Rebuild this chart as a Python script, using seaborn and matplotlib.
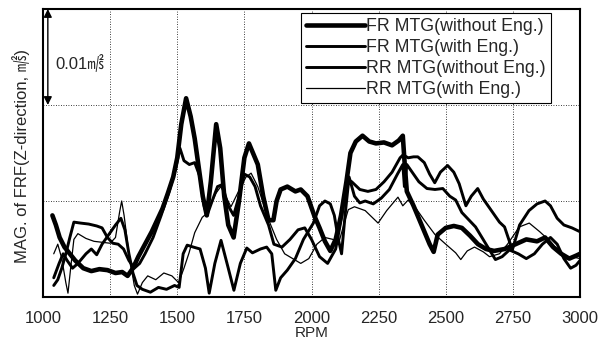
import numpy as np
import pandas as pd
import matplotlib
matplotlib.use("Agg")
import matplotlib.pyplot as plt
import seaborn as sns
from matplotlib.lines import Line2D

sns.set_style("white")
plt.rcParams["font.family"] = ["Liberation Sans", "Noto Sans CJK KR", "DejaVu Sans"]

series_labels = ["FR MTG(without Eng.)", "FR MTG(with Eng.)",
                 "RR MTG(without Eng.)", "RR MTG(with Eng.)"]
x_ticks = [1000, 1250, 1500, 1750, 2000, 2250, 2500, 2750, 3000]

# values read in units of 0.01 m/s^2
fr_wo_rpm = [1035, 1048, 1062, 1080, 1100, 1120, 1150, 1180, 1210, 1240, 1270, 1295, 1315, 1335, 1355,
             1380, 1405, 1425, 1445, 1465, 1485, 1500, 1515, 1533, 1550, 1565, 1580, 1595, 1610, 1625,
             1645, 1660, 1675, 1690, 1710, 1730, 1750, 1767, 1785, 1800, 1820, 1840, 1858, 1870, 1885,
             1910, 1940, 1960, 1985, 2010, 2030, 2050, 2070, 2090, 2110, 2130, 2145, 2165, 2190, 2215,
             2240, 2270, 2300, 2325, 2340, 2348, 2355, 2380, 2410, 2440, 2455, 2470, 2500, 2530, 2560,
             2590, 2620, 2650, 2680, 2720, 2760, 2800, 2840, 2870, 2900, 2930, 2960, 2985, 3000]
fr_wo_val = [0.85, 0.75, 0.62, 0.52, 0.45, 0.38, 0.30, 0.27, 0.29, 0.28, 0.25, 0.26, 0.22, 0.30, 0.42,
             0.55, 0.68, 0.80, 0.92, 1.08, 1.25, 1.45, 1.80, 2.07, 1.88, 1.65, 1.35, 1.05, 0.85, 1.20,
             1.80, 1.55, 1.05, 0.75, 0.62, 1.00, 1.45, 1.60, 1.48, 1.38, 1.05, 0.80, 0.80, 1.00, 1.12,
             1.15, 1.10, 1.12, 1.05, 0.85, 0.72, 0.58, 0.48, 0.60, 0.85, 1.20, 1.50, 1.62, 1.68, 1.62,
             1.60, 1.61, 1.58, 1.63, 1.68, 1.35, 1.10, 0.95, 0.75, 0.55, 0.47, 0.65, 0.72, 0.74, 0.72,
             0.64, 0.55, 0.50, 0.48, 0.50, 0.55, 0.60, 0.58, 0.62, 0.52, 0.45, 0.40, 0.43, 0.45]

fr_w_rpm = [1040, 1055, 1070, 1085, 1100, 1115, 1140, 1170, 1200, 1220, 1240, 1260, 1280, 1300, 1320,
            1340, 1360, 1380, 1410, 1440, 1470, 1495, 1510, 1525, 1545, 1565, 1585, 1600, 1611, 1630,
            1650, 1667, 1690, 1710, 1730, 1750, 1770, 1790, 1810, 1840, 1860, 1890, 1920, 1950, 1975,
            2000, 2030, 2060, 2090, 2110, 2125, 2137, 2150, 2180, 2210, 2240, 2270, 2300, 2330, 2341,
            2360, 2380, 2396, 2420, 2440, 2459, 2480, 2507, 2530, 2550, 2575, 2595, 2619, 2640, 2670,
            2700, 2719, 2748, 2775, 2810, 2840, 2870, 2890, 2915, 2940, 2970, 3000]
fr_w_val = [0.12, 0.18, 0.30, 0.45, 0.62, 0.78, 0.77, 0.76, 0.74, 0.72, 0.62, 0.56, 0.55, 0.50, 0.38,
            0.30, 0.35, 0.45, 0.62, 0.85, 1.10, 1.35, 1.55, 1.42, 1.38, 1.40, 1.25, 0.95, 0.85, 1.00,
            1.15, 1.17, 0.95, 0.85, 1.05, 1.28, 1.25, 1.15, 0.95, 0.75, 0.55, 0.52, 0.60, 0.70, 0.72,
            0.60, 0.42, 0.35, 0.50, 0.80, 1.05, 1.22, 1.20, 1.12, 1.10, 1.12, 1.20, 1.30, 1.45, 1.48,
            1.45, 1.46, 1.46, 1.40, 1.28, 1.19, 1.30, 1.37, 1.30, 1.18, 0.95, 1.05, 1.13, 1.02, 0.90,
            0.78, 0.73, 0.49, 0.75, 0.90, 0.97, 1.00, 0.95, 0.82, 0.75, 0.72, 0.68]

rr_wo_rpm = [1040, 1060, 1075, 1090, 1110, 1130, 1160, 1180, 1200, 1220, 1245, 1270, 1290, 1305, 1320,
             1335, 1350, 1370, 1400, 1430, 1460, 1490, 1507, 1522, 1537, 1560, 1585, 1605, 1619, 1640,
             1663, 1690, 1711, 1735, 1759, 1780, 1810, 1833, 1852, 1867, 1885, 1910, 1940, 1970, 2007,
             2030, 2050, 2070, 2085, 2100, 2112, 2125, 2140, 2160, 2180, 2200, 2230, 2260, 2290, 2320,
             2340, 2346, 2355, 2375, 2400, 2430, 2460, 2489, 2515, 2537, 2560, 2611, 2637, 2663, 2685,
             2710, 2737, 2770, 2800, 2830, 2860, 2890, 2915, 2940, 2965, 2985, 3000]
rr_wo_val = [0.20, 0.35, 0.45, 0.38, 0.30, 0.35, 0.45, 0.50, 0.44, 0.55, 0.65, 0.75, 0.82, 0.70, 0.45,
             0.25, 0.12, 0.08, 0.05, 0.10, 0.08, 0.12, 0.10, 0.45, 0.54, 0.52, 0.50, 0.30, 0.04, 0.35,
             0.59, 0.30, 0.07, 0.35, 0.51, 0.46, 0.50, 0.52, 0.45, 0.07, 0.20, 0.28, 0.40, 0.60, 0.77,
             0.95, 1.00, 0.97, 0.85, 0.60, 0.45, 0.85, 1.25, 1.05, 0.98, 1.00, 0.97, 1.03, 1.12, 1.28,
             1.38, 1.15, 1.38, 1.30, 1.20, 1.13, 1.12, 1.13, 1.05, 1.01, 0.88, 0.73, 0.61, 0.49, 0.39,
             0.42, 0.49, 0.45, 0.40, 0.45, 0.55, 0.62, 0.55, 0.40, 0.30, 0.33, 0.38]

rr_w_rpm = [1040, 1055, 1070, 1085, 1093, 1103, 1115, 1130, 1160, 1190, 1220, 1250, 1270, 1285, 1293,
            1302, 1320, 1340, 1352, 1370, 1390, 1420, 1450, 1480, 1505, 1525, 1544, 1565, 1593, 1610,
            1644, 1662, 1680, 1700, 1730, 1756, 1775, 1800, 1841, 1870, 1900, 1930, 1960, 1990, 2020,
            2050, 2080, 2100, 2120, 2137, 2160, 2200, 2248, 2280, 2322, 2340, 2360, 2390, 2420, 2460,
            2496, 2537, 2556, 2580, 2607, 2640, 2663, 2700, 2730, 2774, 2811, 2850, 2885, 2920, 2944,
            2970, 3000]
rr_w_val = [0.45, 0.55, 0.40, 0.15, 0.04, 0.30, 0.60, 0.66, 0.61, 0.58, 0.57, 0.56, 0.62, 0.88, 1.00,
            0.85, 0.45, 0.12, 0.03, 0.15, 0.22, 0.18, 0.25, 0.22, 0.15, 0.30, 0.46, 0.67, 0.83, 0.87,
            1.08, 1.15, 1.05, 0.94, 1.11, 1.25, 1.29, 1.15, 0.80, 0.60, 0.45, 0.40, 0.35, 0.40, 0.55,
            0.62, 0.60, 0.55, 0.75, 0.91, 0.94, 0.90, 0.77, 0.90, 1.04, 0.95, 1.01, 0.92, 0.80, 0.65,
            0.56, 0.46, 0.39, 0.48, 0.52, 0.47, 0.42, 0.45, 0.55, 0.73, 0.77, 0.68, 0.59, 0.48, 0.39,
            0.42, 0.40]

rpms = [fr_wo_rpm, fr_w_rpm, rr_wo_rpm, rr_w_rpm]
vals = [fr_wo_val, fr_w_val, rr_wo_val, rr_w_val]
widths = [3.3, 2.1, 2.1, 0.9]

frames = []
for lab, r, v in zip(series_labels, rpms, vals):
    frames.append(pd.DataFrame({"RPM": r, "MAG": np.array(v) * 0.01, "series": lab}))
df = pd.concat(frames, ignore_index=True)

W, H = 606, 344
fig = plt.figure(figsize=(W / 100, H / 100), dpi=100)
ax = fig.add_axes([43 / W, 1 - 297 / H, (580 - 43) / W, (297 - 9) / H])

for lab, lw in zip(series_labels, widths):
    sns.lineplot(data=df[df["series"] == lab], x="RPM", y="MAG", color="black",
                 linewidth=lw, ax=ax, legend=False, sort=False, estimator=None)

ax.set_xlim(1000, 3000)
ax.set_ylim(0, 0.03)
ax.set_xticks(x_ticks)
ax.set_xticklabels([str(t) for t in x_ticks], fontsize=12)
ax.set_yticks([0, 0.01, 0.02, 0.03])
ax.set_yticklabels([])
ax.tick_params(axis="both", length=0, pad=10)
ax.grid(True, color="black", linestyle=(0, (1, 2)), linewidth=0.6)
for s in ax.spines.values():
    s.set_color("black")
    s.set_linewidth(1.5)
ax.set_xlabel("RPM", fontsize=11, labelpad=0)
ax.set_ylabel("MAG. of FRF(Z-direction, ㎨)", fontsize=12, va="center")
ax.yaxis.set_label_coords(-0.040, 0.49)

ax.annotate("", xy=(1018, 0.02), xytext=(1018, 0.03),
            arrowprops=dict(arrowstyle="<|-|>", color="black", lw=1.0,
                            mutation_scale=12, shrinkA=0, shrinkB=0))
ax.text(1045, 0.0244, "0.01㎨", fontsize=12, va="center", ha="left")

handles = [Line2D([], [], color="black", linewidth=lw) for lw in widths]
leg = fig.legend(handles, series_labels, loc="upper left",
                 bbox_to_anchor=(301 / W, 1 - 13 / H), fontsize=12.8,
                 frameon=True, fancybox=False, edgecolor="black", framealpha=1,
                 handlelength=3.3, handletextpad=0.08, labelspacing=0.22,
                 borderpad=0.3, borderaxespad=0)
leg.get_frame().set_linewidth(0.8)

fig.savefig("out.png", dpi=100)
